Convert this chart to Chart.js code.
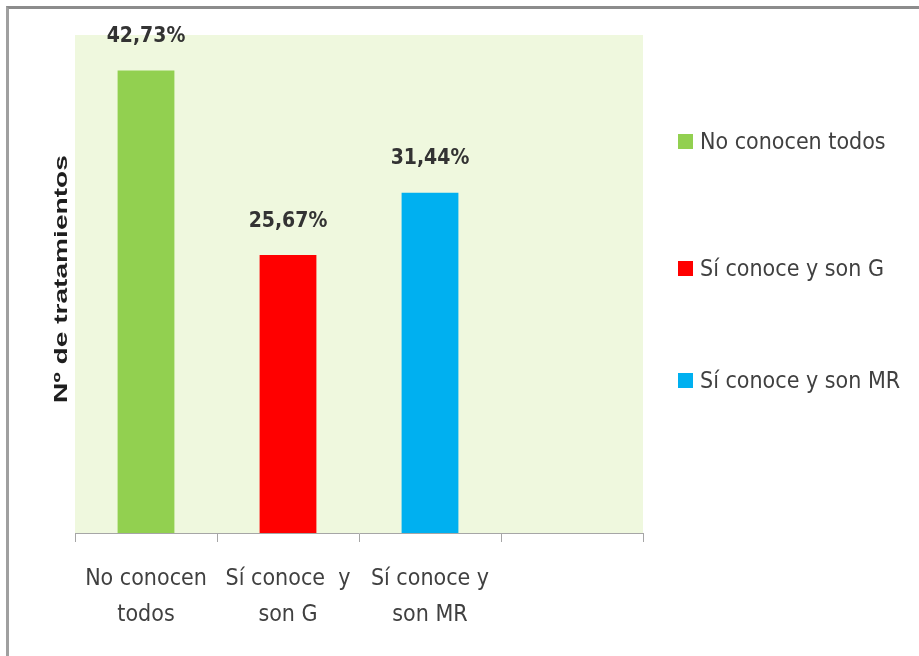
<!DOCTYPE html>
<html>
<head>
<meta charset="utf-8">
<script src="https://cdn.jsdelivr.net/npm/chart.js@4.4.1/dist/chart.umd.min.js"></script>
<style>
    body { margin: 0; background: #fff; }
    #wrap { position: relative; width: 919px; height: 656px; overflow: hidden; }
    #frame { position: absolute; left: 6px; top: 6px; right: -10px; bottom: -10px;
             border-top: 3px solid #8c8c8c; border-left: 3px solid #a0a0a0; }
    #legend { position: absolute; left: 678px; top: 0; font-family: "DejaVu Sans Condensed", "Liberation Sans", sans-serif;
              font-size: 23px; color: #404040; }
    .item { position: absolute; white-space: nowrap; display: flex; align-items: center; height: 30px; }
    .box { width: 15px; height: 15px; margin-right: 7px; }
</style>
</head>
<body>
<div id="wrap">
    <canvas id="chart" width="919" height="656"></canvas>
    <div id="frame"></div>
    <div id="legend"></div>
</div>
<script>
const categories = [['No conocen', 'todos'], ['Sí conoce  y', 'son G'], ['Sí conoce y', 'son MR'], ''];
const values = [42.73, 25.67, 31.44, null];
const valueLabels = ['42,73%', '25,67%', '31,44%'];
const legendNames = ['No conocen todos', 'Sí conoce  y son G', 'Sí conoce y son MR'];
const colors = ['#92d050', '#ff0000', '#00b0f0'];
const legendY = [141, 268, 380];
const yTitle = 'Nº de tratamientos';

const FONT = '"DejaVu Sans Condensed", "Liberation Sans", sans-serif';

// plot background
const plotBg = {
    id: 'plotBg',
    beforeDraw(chart) {
        const a = chart.chartArea;
        const ctx = chart.ctx;
        ctx.save();
        ctx.fillStyle = '#eff8de';
        ctx.fillRect(a.left, a.top, a.right - a.left, a.bottom - a.top);
        ctx.restore();
    }
};

// y axis title, drawn a bit stretched like the original
const yTitlePlugin = {
    id: 'yTitle',
    afterDraw(chart) {
        const ctx = chart.ctx;
        ctx.save();
        ctx.translate(62, 279);
        ctx.rotate(-Math.PI / 2);
        ctx.scale(1.48, 1);
        ctx.font = 'bold 19px "Liberation Sans", Arial, sans-serif';
        ctx.fillStyle = '#1e1e1e';
        ctx.textAlign = 'center';
        ctx.textBaseline = 'middle';
        ctx.fillText(yTitle, 0, 0);
        ctx.restore();
    }
};

// value labels on top of bars
const barLabels = {
    id: 'barLabels',
    afterDatasetsDraw(chart) {
        const ctx = chart.ctx;
        const meta = chart.getDatasetMeta(0);
        ctx.save();
        ctx.font = 'bold 21px ' + FONT;
        ctx.fillStyle = '#333333';
        ctx.textAlign = 'center';
        ctx.textBaseline = 'middle';
        meta.data.forEach((bar, i) => {
            if (values[i] == null) return;
            ctx.fillText(valueLabels[i], bar.x, bar.y - 34);
        });
        ctx.restore();
    }
};

new Chart(document.getElementById('chart'), {
    type: 'bar',
    data: {
        labels: categories,
        datasets: [{
            data: values,
            backgroundColor: colors,
            barPercentage: 0.4,
            categoryPercentage: 1
        }]
    },
    options: {
        responsive: false,
        animation: false,
        layout: { padding: { left: 0, right: 276, top: 35, bottom: 0 } },
        plugins: { legend: { display: false }, tooltip: { enabled: false } },
        scales: {
            x: {
                afterFit: s => { s.height = 656 - 533; },
                grid: { display: true, offset: true, drawOnChartArea: false, tickLength: 9, color: '#a6a6a6' },
                border: { display: true, color: '#a6a6a6', width: 1 },
                ticks: {
                    color: '#404040',
                    font: { family: FONT, size: 23, lineHeight: 1.565 },
                    maxRotation: 0, padding: 19
                }
            },
            y: {
                min: 0, max: 46,
                afterFit: s => { s.width = 75; },
                grid: { display: false },
                border: { display: false },
                ticks: { display: false }
            }
        }
    },
    plugins: [plotBg, barLabels, yTitlePlugin]
});

const legend = document.getElementById('legend');
legendNames.forEach((name, i) => {
    const el = document.createElement('div');
    el.className = 'item';
    el.style.top = (legendY[i] - 15) + 'px';
    el.innerHTML = '<span class="box" style="background:' + colors[i] + '"></span>' + name;
    legend.appendChild(el);
});
</script>
</body>
</html>
